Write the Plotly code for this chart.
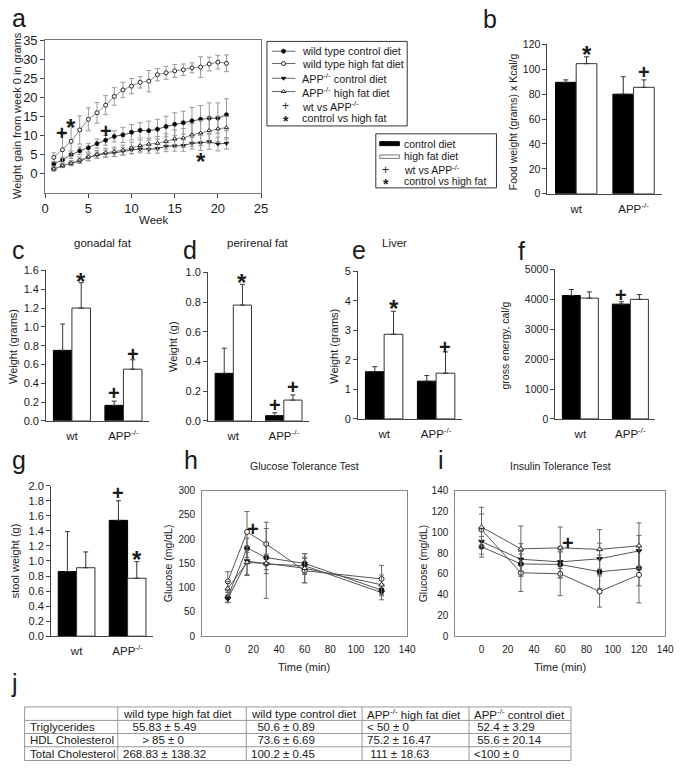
import plotly.graph_objects as go

W, H = 685, 768
FONT = "Liberation Sans, Arial, Helvetica, sans-serif"
TXT = "#1a1a1a"
AX = "#444444"

# ---------------- data ----------------
# panel a : weight gain (g) per week
weeks = list(range(1, 22))
wt_ctrl_gain = [2.6, 3.6, 5.0, 6.0, 6.8, 7.9, 8.8, 9.8, 10.2, 10.9, 11.4, 11.3, 11.7, 12.4, 13.0, 13.4, 13.9, 14.3, 14.6, 14.6, 15.5]
wt_ctrl_gain_err = [0.6, 0.8, 1.0, 1.0, 1.1, 1.2, 1.3, 1.5, 2.0, 2.0, 2.0, 2.5, 2.6, 2.7, 3.0, 3.0, 3.5, 3.6, 4.0, 4.0, 4.2]
wt_hf_gain = [4.3, 6.3, 8.5, 11.5, 14.3, 16.0, 18.0, 20.3, 22.0, 23.0, 24.0, 24.3, 26.0, 26.5, 27.0, 27.3, 27.8, 28.0, 28.8, 29.3, 29.0]
wt_hf_gain_err = [1.2, 4.0, 4.0, 3.7, 3.0, 2.7, 2.5, 2.3, 2.0, 2.0, 1.5, 2.8, 1.6, 1.7, 1.7, 1.5, 1.3, 2.7, 1.8, 1.8, 2.2]
app_ctrl_gain = [1.2, 2.1, 2.7, 3.3, 4.3, 4.9, 5.3, 5.5, 5.9, 6.2, 6.5, 6.4, 6.6, 7.2, 7.3, 7.4, 8.0, 8.1, 8.4, 7.8, 8.0]
app_ctrl_gain_err = [0.5, 0.5, 0.6, 0.6, 0.8, 0.8, 0.9, 1.0, 1.0, 1.0, 1.0, 1.0, 1.2, 1.4, 1.4, 1.5, 1.5, 2.0, 2.0, 1.8, 1.5]
app_hf_gain = [1.3, 2.1, 2.8, 3.6, 4.4, 5.1, 5.5, 5.8, 6.2, 6.8, 7.4, 7.8, 8.0, 8.5, 9.2, 9.4, 10.2, 10.7, 11.4, 11.8, 12.1]
app_hf_gain_err = [0.5, 0.4, 0.6, 0.8, 1.0, 1.0, 1.2, 1.2, 1.3, 1.5, 1.5, 1.5, 1.8, 2.0, 2.3, 2.5, 3.0, 3.3, 3.5, 3.3, 3.0]
a_sig_text = ["+", "*", "+", "*"]
a_sig_week = [2, 3, 7, 18]
a_sig_val = [10.8, 13.6, 11.2, 4.8]

# bar panels (groups: wt, APP-/-)
groups = ["wt", "APP<sup>-/-</sup>"]
food_ctrl, food_ctrl_err = [89.5, 80.0], [2.0, 14.0]
food_hf, food_hf_err = [104.5, 85.5], [5.5, 6.0]
gonadal_ctrl, gonadal_ctrl_err = [0.75, 0.165], [0.28, 0.045]
gonadal_hf, gonadal_hf_err = [1.20, 0.55], [0.27, 0.10]
perirenal_ctrl, perirenal_ctrl_err = [0.32, 0.035], [0.17, 0.02]
perirenal_hf, perirenal_hf_err = [0.78, 0.14], [0.14, 0.035]
liver_ctrl, liver_ctrl_err = [1.60, 1.28], [0.17, 0.19]
liver_hf, liver_hf_err = [2.87, 1.55], [0.78, 0.72]
energy_ctrl, energy_ctrl_err = [4130, 3840], [200, 80]
energy_hf, energy_hf_err = [4040, 4000], [210, 160]
stool_ctrl, stool_ctrl_err = [0.86, 1.54], [0.53, 0.26]
stool_hf, stool_hf_err = [0.91, 0.77], [0.21, 0.22]

# glucose tolerance test (h)
gtt_time = [0, 15, 30, 60, 120]
gtt_wt_ctrl, gtt_wt_ctrl_err = [80, 182, 162, 150, 95], [10, 20, 25, 20, 12]
gtt_wt_hf, gtt_wt_hf_err = [113, 215, 190, 135, 118], [20, 42, 45, 25, 28]
gtt_app_ctrl, gtt_app_ctrl_err = [77, 155, 149, 145, 90], [8, 30, 20, 18, 15]
gtt_app_hf, gtt_app_hf_err = [98, 152, 150, 140, 106], [15, 25, 72, 30, 20]

# insulin tolerance test (i)
itt_time = [0, 30, 60, 90, 120]
itt_wt_ctrl, itt_wt_ctrl_err = [86, 69.5, 69, 62, 65.5], [10, 12, 13, 16, 17]
itt_wt_hf, itt_wt_hf_err = [102.5, 61, 60, 43, 59], [15, 18, 21, 15, 27]
itt_app_ctrl, itt_app_ctrl_err = [91, 74, 71.5, 74.5, 82], [12, 15, 15, 15, 15]
itt_app_hf, itt_app_hf_err = [105, 84, 85, 83.5, 87], [19, 22, 20, 19, 22]

# table j
table_header = ["", "wild type high fat diet", "wild type control diet",
                "APP<sup>-/-</sup> high fat diet", "APP<sup>-/-</sup> control diet"]
table_rows = ["Triglycerides", "HDL Cholesterol", "Total Cholesterol"]
tbl_wt_hf = ["\u00a0\u00a0\u00a055.83 ± 5.49", "\u00a0\u00a0\u00a0\u00a0\u00a0\u00a0> 85 ± 0", "268.83 ± 138.32"]
tbl_wt_ctrl = ["\u00a0\u00a050.6 ± 0.89", "\u00a0\u00a073.6 ± 6.69", "100.2 ± 0.45"]
tbl_app_hf = ["< 50 ± 0", "75.2 ± 16.47", "\u00a0111 ± 18.63"]
tbl_app_ctrl = ["\u00a052.4 ± 3.29", "\u00a055.6 ± 20.14", "<100 ± 0"]

# ---------------- helpers ----------------
def dx(x0, x1):
    return [x0 / W, x1 / W]

def dy(y0, y1):
    return [1 - y1 / H, 1 - y0 / H]

fig = go.Figure()
annotations = []
shapes = []

def ann(text, x, y, size, xref="x10", yref="y10", xanchor="center", yanchor="middle", angle=0, yshift=0):
    annotations.append(dict(text=text, x=x, y=y, xref=xref, yref=yref, xanchor=xanchor,
                            yanchor=yanchor, showarrow=False, textangle=angle, yshift=yshift,
                            font=dict(size=size, family=FONT, color=TXT)))

def sig(text, x, y, xref, yref):
    if text == "*":
        ann("<b>*</b>", x, y, 24, xref, yref, yshift=-6)
    else:
        ann("<b>+</b>", x, y, 20, xref, yref)

def line_series(x, y, err, xa, ya, sym, fill, lcolor, ecolor, msize=5):
    fig.add_trace(go.Scatter(
        x=x, y=y, mode="lines+markers", xaxis=xa, yaxis=ya,
        line=dict(color=lcolor, width=1),
        marker=dict(symbol=sym, size=msize, color=fill, line=dict(color="#222", width=1)),
        error_y=dict(type="data", array=err, color=ecolor, thickness=1, width=2.5),
        showlegend=False, hoverinfo="skip", cliponaxis=False))

BW = 0.36

def bar_pair(idx, ctrl, ctrl_err, hf, hf_err):
    xa, ya = f"x{idx}", f"y{idx}"
    fig.add_trace(go.Bar(x=groups, y=ctrl, width=BW, offset=-BW, xaxis=xa, yaxis=ya,
                         marker=dict(color="black", line=dict(color="black", width=1)),
                         error_y=dict(type="data", symmetric=False, array=ctrl_err,
                                      arrayminus=[0] * len(ctrl), color="#333", thickness=1, width=2.5),
                         showlegend=False, hoverinfo="skip"))
    fig.add_trace(go.Bar(x=groups, y=hf, width=BW, offset=0, xaxis=xa, yaxis=ya,
                         marker=dict(color="white", line=dict(color="#333", width=1)),
                         error_y=dict(type="data", symmetric=False, array=hf_err,
                                      arrayminus=[0] * len(hf), color="#333", thickness=1, width=2.5),
                         showlegend=False, hoverinfo="skip"))

# ---------------- panel a ----------------
line_series(weeks, wt_ctrl_gain, wt_ctrl_gain_err, "x", "y", "circle", "black", "#555", "#999", 4)
line_series(weeks, wt_hf_gain, wt_hf_gain_err, "x", "y", "circle", "white", "#8a8a8a", "#999", 4)
line_series(weeks, app_ctrl_gain, app_ctrl_gain_err, "x", "y", "triangle-down", "black", "#555", "#999", 4)
line_series(weeks, app_hf_gain, app_hf_gain_err, "x", "y", "triangle-up", "white", "#8a8a8a", "#999", 4)
for t, wk, v in zip(a_sig_text, a_sig_week, a_sig_val):
    sig(t, wk, v, "x", "y")

# ---------------- bar panels ----------------
bar_pair(2, food_ctrl, food_ctrl_err, food_hf, food_hf_err)
bar_pair(3, gonadal_ctrl, gonadal_ctrl_err, gonadal_hf, gonadal_hf_err)
bar_pair(4, perirenal_ctrl, perirenal_ctrl_err, perirenal_hf, perirenal_hf_err)
bar_pair(5, liver_ctrl, liver_ctrl_err, liver_hf, liver_hf_err)
bar_pair(6, energy_ctrl, energy_ctrl_err, energy_hf, energy_hf_err)
bar_pair(7, stool_ctrl, stool_ctrl_err, stool_hf, stool_hf_err)

HFX = BW / 2
CTX = -BW / 2
sig("*", 0 + HFX, 117, "x2", "y2")
sig("+", 1 + HFX, 98, "x2", "y2")
sig("*", 0 + HFX, 1.55, "x3", "y3")
sig("+", 1 + CTX, 0.30, "x3", "y3")
sig("+", 1 + HFX, 0.71, "x3", "y3")
sig("*", 0 + HFX, 0.97, "x4", "y4")
sig("+", 1 + CTX, 0.106, "x4", "y4")
sig("+", 1 + HFX, 0.225, "x4", "y4")
sig("*", 0 + HFX, 3.95, "x5", "y5")
sig("+", 1 + HFX, 2.45, "x5", "y5")
sig("+", 1 + CTX, 4150, "x6", "y6")
sig("+", 1 + CTX, 1.9, "x7", "y7")
sig("*", 1 + HFX, 1.10, "x7", "y7")

# ---------------- panel h ----------------
line_series(gtt_time, gtt_wt_ctrl, gtt_wt_ctrl_err, "x8", "y8", "circle", "black", "#555", "#666")
line_series(gtt_time, gtt_wt_hf, gtt_wt_hf_err, "x8", "y8", "circle", "white", "#555", "#666")
line_series(gtt_time, gtt_app_ctrl, gtt_app_ctrl_err, "x8", "y8", "triangle-down", "black", "#555", "#666")
line_series(gtt_time, gtt_app_hf, gtt_app_hf_err, "x8", "y8", "triangle-up", "white", "#555", "#666")
sig("+", 19.5, 221, "x8", "y8")

# ---------------- panel i ----------------
line_series(itt_time, itt_wt_ctrl, itt_wt_ctrl_err, "x9", "y9", "circle", "black", "#555", "#666")
line_series(itt_time, itt_wt_hf, itt_wt_hf_err, "x9", "y9", "circle", "white", "#555", "#666")
line_series(itt_time, itt_app_ctrl, itt_app_ctrl_err, "x9", "y9", "triangle-down", "black", "#555", "#666")
line_series(itt_time, itt_app_hf, itt_app_hf_err, "x9", "y9", "triangle-up", "white", "#555", "#666")
sig("+", 66, 90, "x9", "y9")

# ---------------- legends (overlay, pixel frame) ----------------
leg_a_labels = ["wild type control diet", "wild type high fat diet", "APP<sup>-/-</sup> control diet",
                "APP<sup>-/-</sup> high fat diet", "wt vs APP<sup>-/-</sup>", "control vs high fat"]
leg_a_rows = [45, 57.5, 72.5, 86, 100.5, 112.5]
leg_a_sym = [("circle", "black"), ("circle", "white"), ("triangle-down", "black"), ("triangle-up", "white")]
for (sym, fill), yy in zip(leg_a_sym, leg_a_rows[:4]):
    fig.add_trace(go.Scatter(x=[273, 297], y=[yy, yy], mode="lines", xaxis="x10", yaxis="y10",
                             line=dict(color="#666", width=1), showlegend=False, hoverinfo="skip"))
    fig.add_trace(go.Scatter(x=[285], y=[yy], mode="markers", xaxis="x10", yaxis="y10",
                             marker=dict(symbol=sym, size=4, color=fill, line=dict(color="#222", width=1)),
                             showlegend=False, hoverinfo="skip"))
for lab, yy in zip(leg_a_labels, leg_a_rows):
    ann(lab, 302, yy, 10.8, xanchor="left")
ann("+", 287, leg_a_rows[4], 12)
ann("<b>*</b>", 287, leg_a_rows[5], 14, yshift=-3)
shapes.append(dict(type="rect", xref="x10", yref="y10", x0=268, x1=411, y0=35, y1=121,
                   line=dict(color="#333", width=1), fillcolor="rgba(0,0,0,0)"))

leg_b_labels = ["control diet", "high fat diet", "wt vs APP<sup>-/-</sup>", "control vs high fat"]
leg_b_rows = [139, 152, 165.5, 176.5]
for lab, yy in zip(leg_b_labels, leg_b_rows):
    ann(lab, 406, yy, 10.5, xanchor="left")
shapes.append(dict(type="rect", xref="x10", yref="y10", x0=383, x1=403, y0=137, y1=141,
                   line=dict(color="black", width=1), fillcolor="black"))
shapes.append(dict(type="rect", xref="x10", yref="y10", x0=383, x1=403, y0=150.5, y1=154,
                   line=dict(color="#777", width=1), fillcolor="white"))
ann("+", 389, leg_b_rows[2], 12)
ann("<b>*</b>", 389, leg_b_rows[3], 14, yshift=-3)
shapes.append(dict(type="rect", xref="x10", yref="y10", x0=379, x1=502, y0=129, y1=184,
                   line=dict(color="#333", width=1), fillcolor="rgba(0,0,0,0)"))

# ---------------- table j ----------------
col_edges = [21, 116, 247, 365, 474, 578]
row_edges = [712, 725.7, 739, 752.5, 766.5]
for xe in col_edges:
    shapes.append(dict(type="line", xref="x10", yref="y10", x0=xe, x1=xe, y0=row_edges[0], y1=row_edges[-1],
                       line=dict(color="#999", width=1)))
for ye in row_edges:
    shapes.append(dict(type="line", xref="x10", yref="y10", x0=col_edges[0], x1=col_edges[-1], y0=ye, y1=ye,
                       line=dict(color="#999", width=1)))
table_cols = [table_rows, tbl_wt_hf, tbl_wt_ctrl, tbl_app_hf, tbl_app_ctrl]
for ci, head in enumerate(table_header):
    yc = (row_edges[0] + row_edges[1]) / 2
    if head:
        ann(head, col_edges[ci] + 3, yc, 11.5, xanchor="left")
    for ri, val in enumerate(table_cols[ci]):
        yc = (row_edges[ri + 1] + row_edges[ri + 2]) / 2
        ann(val, col_edges[ci] + 3, yc, 11.5, xanchor="left")

# ---------------- panel letters / titles / axis titles ----------------
for letter, lx, ly in [("a", 15, 11), ("b", 495, 12), ("c", 15, 247), ("d", 190, 247),
                       ("e", 362, 247), ("f", 528, 248), ("g", 15, 461), ("h", 191, 461),
                       ("i", 445, 461), ("j", 11, 688)]:
    ann(letter, lx, ly, 25)

ann("gonadal fat", 101, 240, 11.5)
ann("perirenal fat", 259, 240, 11.5)
ann("Liver", 398, 240, 11.5)
ann("Glucose Tolerance Test", 306, 467, 10.5)
ann("Insulin Tolerance Test", 567, 467, 10.5)

ann("Week", 152, 216.5, 11.5)
ann("Time (min)", 306, 671, 11)
ann("Time (min)", 567, 671, 11)

ann("Weight gain from week 0 in grams", 13, 110, 11, angle=-90)
ann("Food weight (grams) x Kcal/g", 519, 117, 10.5, angle=-90)
ann("Weight (grams)", 9, 345, 11, angle=-90)
ann("Weight (g)", 172, 345, 11, angle=-90)
ann("Weight (grams)", 337, 345, 11, angle=-90)
ann("gross energy, cal/g", 511, 344, 10.5, angle=-90)
ann("stool weight (g)", 12, 563, 11, angle=-90)
ann("Glucose (mg/dL)", 168, 566, 10.5, angle=-90)
ann("Glucose (mg/dL)", 428, 566, 10.5, angle=-90)

# ---------------- axes ----------------
def tf(size):
    return dict(size=size, family=FONT, color=TXT)

common = dict(showgrid=False, zeroline=False, showline=True, linecolor=AX, linewidth=1, fixedrange=True)

layout_axes = {}
# a
layout_axes["xaxis"] = dict(common, domain=dx(42, 262), anchor="y", range=[0, 25], tickvals=[0, 5, 10, 15, 20, 25],
                            ticks="outside", ticklen=4, tickcolor=AX, tickfont=tf(13), mirror=True,
                            linecolor="#777")
layout_axes["yaxis"] = dict(common, domain=dy(34, 189), anchor="x", range=[-5, 35],
                            tickvals=[0, 5, 10, 15, 20, 25, 30, 35], ticks="outside", ticklen=4,
                            tickcolor=AX, tickfont=tf(13), mirror=True, linecolor="#777")

def bar_axes(idx, x0, x1, y0, y1, yr, dtick, fmt, fsize=11):
    layout_axes[f"xaxis{idx}"] = dict(common, domain=dx(x0, x1), anchor=f"y{idx}", type="category",
                                      range=[-0.5, 1.5], ticks="", tickfont=tf(11.5), ticklabelstandoff=4)
    layout_axes[f"yaxis{idx}"] = dict(common, domain=dy(y0, y1), anchor=f"x{idx}", range=yr, dtick=dtick,
                                      tick0=0, tickformat=fmt, ticks="outside", ticklen=4, tickcolor=AX,
                                      tickfont=tf(fsize))

bar_axes(2, 554, 671, 38, 190, [0, 120], 20, "d", 10.5)
bar_axes(3, 43, 148, 268, 421, [0, 1.6], 0.2, ".1f")
bar_axes(4, 208, 311, 270, 421, [0, 1.0], 0.2, ".1f")
bar_axes(5, 361, 467, 269, 419, [0, 5], 1, "d")
bar_axes(6, 562, 664, 267, 419, [0, 5000], 1000, "d", 10.5)
bar_axes(7, 48, 152, 487, 640, [0, 2.0], 0.2, ".1f")

layout_axes["xaxis8"] = dict(common, domain=dx(202, 411), anchor="y8", range=[-20, 140],
                             tickvals=[0, 20, 40, 60, 80, 100, 120, 140], ticks="", tickfont=tf(10),
                             mirror=True, linecolor="#888", ticklabelstandoff=4)
layout_axes["yaxis8"] = dict(common, domain=dy(492, 640), anchor="x8", range=[0, 300], dtick=50,
                             ticks="", tickfont=tf(10), mirror=True, linecolor="#888", ticklabelstandoff=4)
layout_axes["xaxis9"] = dict(common, domain=dx(460, 674), anchor="y9", range=[-20, 140],
                             tickvals=[0, 20, 40, 60, 80, 100, 120, 140], ticks="", tickfont=tf(10),
                             mirror=True, linecolor="#888", ticklabelstandoff=4)
layout_axes["yaxis9"] = dict(common, domain=dy(492, 640), anchor="x9", range=[0, 140], dtick=20,
                             ticks="", tickfont=tf(10), mirror=True, linecolor="#888", ticklabelstandoff=4)
layout_axes["xaxis10"] = dict(domain=[0, 1], range=[0, W], visible=False, fixedrange=True, anchor="y10")
layout_axes["yaxis10"] = dict(domain=[0, 1], range=[H, 0], visible=False, fixedrange=True, anchor="x10")

fig.update_layout(
    width=W, height=H, margin=dict(l=0, r=0, t=0, b=0),
    paper_bgcolor="white", plot_bgcolor="rgba(0,0,0,0)",
    font=dict(family=FONT, color=TXT), showlegend=False,
    annotations=annotations, shapes=shapes, hovermode=False,
    **layout_axes,
)

fig.write_html("out.html", config={"displayModeBar": False, "staticPlot": True},
               post_script="document.body.style.margin='0px';document.body.style.overflow='hidden';")
